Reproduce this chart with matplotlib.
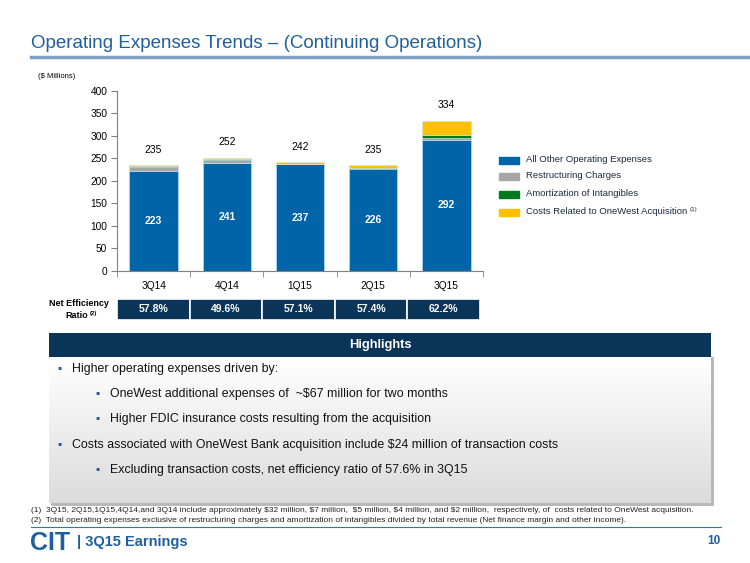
import numpy as np
import matplotlib
matplotlib.use("Agg")
import matplotlib.pyplot as plt
from matplotlib.patches import Rectangle

plt.rcParams['font.family'] = ['Liberation Sans', 'DejaVu Sans']

# chart data ($ millions)
quarters = ["3Q14", "4Q14", "1Q15", "2Q15", "3Q15"]
all_other = [223, 241, 237, 226, 292]
restructuring = [8, 6, 0, 1, 4]
amortization = [2, 1, 1, 1, 6]
onewest = [2, 4, 4, 7, 32]
totals = [235, 252, 242, 235, 334]
efficiency = ["57.8%", "49.6%", "57.1%", "57.4%", "62.2%"]

series_names = ["All Other Operating Expenses", "Restructuring Charges",
                "Amortization of Intangibles", "Costs Related to OneWest Acquisition"]
colors = ["#0064A8", "#A6A6A6", "#007A1E", "#FFC000"]

NAVY = "#0B3558"
TITLE_BLUE = "#1F5F9E"
W, H = 750, 563


def fx(x):
    return x / W


def fy(y):
    return 1 - y / H


def px_axes(fig, x0, y0, x1, y1):
    # axes given in pixel coords (top-left origin)
    return fig.add_axes([fx(x0), fy(y1), (x1 - x0) / W, (y1 - y0) / H])


fig = plt.figure(figsize=(7.5, 5.63), dpi=100)

# title + underline
fig.text(fx(31), fy(44), "Operating Expenses Trends \u2013 (Continuing Operations)",
         fontsize=13.5, color=TITLE_BLUE, va="center")
fig.add_artist(plt.Line2D([fx(31), 1], [fy(57), fy(57)], color="#7F9FC7", lw=2.5))
fig.text(fx(38), fy(77), "($ Millions)", fontsize=5.5, va="center")

# stacked bars
ax = px_axes(fig, 117, 91, 483, 271)
x = np.arange(len(quarters)) + 0.5
bottom = np.zeros(len(quarters))
for vals, c, name in zip([all_other, restructuring, amortization, onewest], colors, series_names):
    ax.bar(x, vals, 0.66, bottom=bottom, color=c, edgecolor="#CFE3F3", linewidth=0.4, label=name)
    bottom += np.array(vals)

for xi, v in zip(x, all_other):
    ax.text(xi, v / 2, str(v), ha="center", va="center", color="white",
            fontsize=7.5, fontweight="bold")
for xi, t in zip(x, totals):
    ax.annotate(str(t), (xi, t), xytext=(0, 11), textcoords="offset points",
                ha="center", va="center", fontsize=7.5)

ax.set_xlim(0, 5)
ax.set_ylim(0, 400)
ax.set_yticks(range(0, 401, 50))
ax.set_xticks(x)
ax.set_xticklabels(quarters)
ax.set_xticks(np.arange(0, 6), minor=True)
ax.tick_params(axis="x", which="major", length=0, labelsize=7.3, pad=7)
ax.tick_params(axis="x", which="minor", length=4, color="#808080")
ax.tick_params(axis="y", length=4, color="#808080", labelsize=7.3, pad=3)
for s in ["top", "right"]:
    ax.spines[s].set_visible(False)
for s in ["left", "bottom"]:
    ax.spines[s].set_color("#808080")
    ax.spines[s].set_linewidth(0.8)

# legend drawn by hand
leg_y = [160, 176, 194, 212]
for c, name, ly in zip(colors, series_names, leg_y):
    fig.add_artist(Rectangle((fx(499), fy(ly + 3.5)), 20 / W, 7 / H, color=c,
                             transform=fig.transFigure))
    fig.text(fx(526), fy(ly), name, fontsize=6.8, va="center", color="#1a2a3a")
fig.text(fx(690), fy(209), "(1)", fontsize=4.5, va="center", color="#1a2a3a")

# net efficiency ratio row
tax = px_axes(fig, 117, 299, 480, 320)
tax.bar(x, [1] * 5, 1.0, color=NAVY, edgecolor="white", linewidth=1.2)
for xi, e in zip(x, efficiency):
    tax.text(xi, 0.5, e, ha="center", va="center", color="white", fontsize=7.5, fontweight="bold")
tax.set_xlim(0, 5)
tax.set_ylim(0, 1)
tax.axis("off")
fig.text(fx(79), fy(303), "Net Efficiency", fontsize=6.5, fontweight="bold", ha="center", va="center")
fig.text(fx(77), fy(315), "Ratio", fontsize=6.5, fontweight="bold", ha="center", va="center")
fig.text(fx(90), fy(313), "(2)", fontsize=4.3, fontweight="bold", va="center")

# highlights box
shadow = px_axes(fig, 51, 357, 714, 506)
shadow.add_patch(Rectangle((0, 0), 1, 1, color="#B8B8B8"))
shadow.axis("off")
hax = px_axes(fig, 49, 357, 711, 503)
grad = np.linspace(1.0, 0.86, 100).reshape(-1, 1)
hax.imshow(np.dstack([grad, grad, grad]), aspect="auto", extent=[0, 1, 0, 1])
hax.set_xlim(0, 1)
hax.set_ylim(0, 1)
hax.axis("off")

hdr = px_axes(fig, 49, 333, 711, 357)
hdr.add_patch(Rectangle((0, 0), 1, 1, color=NAVY))
hdr.text(0.5, 0.5, "Highlights", ha="center", va="center", color="white",
         fontsize=9.3, fontweight="bold")
hdr.axis("off")

bullets = [
    (0, 369, "Higher operating expenses driven by:"),
    (1, 394, "OneWest additional expenses of  ~$67 million for two months"),
    (1, 419, "Higher FDIC insurance costs resulting from the acquisition"),
    (0, 445, "Costs associated with OneWest Bank acquisition include $24 million of transaction costs"),
    (1, 470, "Excluding transaction costs, net efficiency ratio of 57.6% in 3Q15"),
]
for level, by, txt in bullets:
    bx = 57 if level == 0 else 95
    fig.text(fx(bx), fy(by - 1), "\u25aa", fontsize=8.5, color="#1F5F9E", va="center")
    fig.text(fx(bx + 15), fy(by), txt, fontsize=8.95, va="center", color="#111111")

# footnotes
fig.text(fx(31), fy(511), "(1)  3Q15, 2Q15,1Q15,4Q14,and 3Q14 include approximately $32 million, $7 million,  "
         "$5 million, $4 million, and $2 million,  respectively, of  costs related to OneWest acquisition.",
         fontsize=6.0, va="center", color="#222222")
fig.text(fx(31), fy(521), "(2)  Total operating expenses exclusive of restructuring charges and amortization "
         "of intangibles divided by total revenue (Net finance margin and other income).",
         fontsize=6.0, va="center", color="#222222")
fig.add_artist(plt.Line2D([fx(31), fx(721)], [fy(526.5), fy(526.5)], color="#2C7BA8", lw=0.8))

# footer
fig.text(fx(30), fy(543), "CIT", fontsize=18, fontweight="heavy", color="#1F5F9E", va="center")
fig.text(fx(77), fy(542), "| 3Q15 Earnings", fontsize=10.5, fontweight="bold", color="#1F5F9E", va="center")
fig.text(fx(720), fy(541), "10", fontsize=8.5, fontweight="bold", color="#1F5F9E", va="center", ha="right")

fig.savefig("out.png", dpi=100)
